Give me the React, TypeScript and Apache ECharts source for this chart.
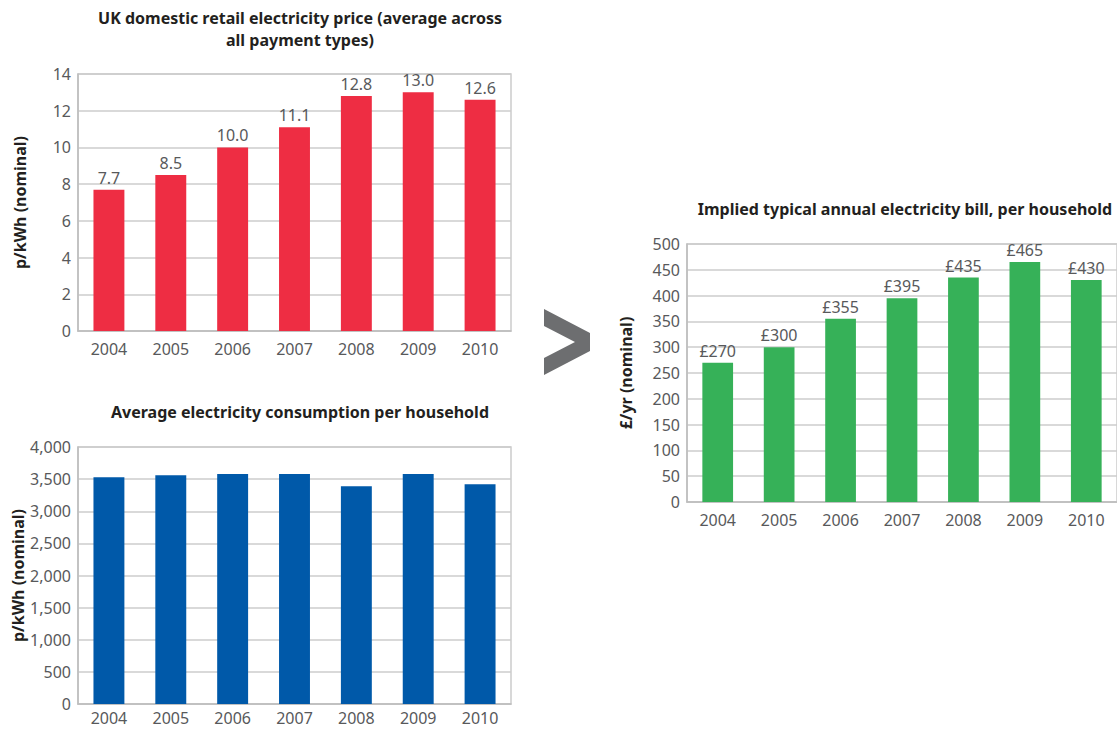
import React, { useEffect, useRef } from "react";
import * as echarts from "echarts";

const years = ["2004", "2005", "2006", "2007", "2008", "2009", "2010"];
const priceValues = [7.7, 8.5, 10.0, 11.1, 12.8, 13.0, 12.6];
const consumptionValues = [3530, 3560, 3580, 3580, 3390, 3580, 3420];
const billValues = [270, 300, 355, 395, 435, 465, 430];

const titles = [
  "UK domestic retail electricity price (average across\nall payment types)",
  "Average electricity consumption per household",
  "Implied typical annual electricity bill, per household",
];
const axisNames = ["p/kWh (nominal)", "p/kWh (nominal)", "£/yr (nominal)"];

const FONT = "'Noto Sans', 'Open Sans', sans-serif";
const TICK = "#58595b";
const DARK = "#231f20";
const GRIDC = "#cccccc";

export default function App() {
  const ref = useRef<HTMLDivElement>(null);
  useEffect(() => {
    document.body.style.margin = "0";
    if (!ref.current) return;
    const chart = echarts.init(ref.current, null, { renderer: "svg" });
    const grids = [
      { left: 78, top: 74, width: 433, height: 257 },
      { left: 78, top: 447, width: 433, height: 257 },
      { left: 687, top: 244, width: 431, height: 258 },
    ];
    const xMargins = [10, 6, 10];
    const yCfg = [
      { min: 0, max: 14, interval: 2, fmt: (v: number) => String(v), gap: 50 },
      {
        min: 0,
        max: 4000,
        interval: 500,
        fmt: (v: number) => v.toLocaleString("en-GB"),
        gap: 50,
      },
      { min: 0, max: 500, interval: 50, fmt: (v: number) => String(v), gap: 53 },
    ];
    const colors = ["#ee2d43", "#0059a9", "#36b158"];
    const dataSets = [priceValues, consumptionValues, billValues];
    const labelFmt = [
      (p: any) => p.value.toFixed(1),
      null,
      (p: any) => "£" + p.value,
    ];
    const titleCfg = [
      { x: 295, top: 2, size: 16 },
      { x: 295, top: 396, size: 16 },
      { x: 900, top: 193, size: 16 },
    ];

    chart.setOption({
      animation: false,
      title: titles.map((t, i) => ({
        text: t,
        left: titleCfg[i].x,
        top: titleCfg[i].top,
        textAlign: "center",
        textStyle: {
          fontFamily: FONT,
          fontWeight: "bold",
          fontSize: titleCfg[i].size,
          lineHeight: 22,
          color: DARK,
        },
      })),
      grid: grids.map((g) => ({
        ...g,
        show: true,
        borderColor: GRIDC,
        borderWidth: 1.5,
        containLabel: false,
      })),
      xAxis: grids.map((_, i) => ({
        type: "category",
        gridIndex: i,
        data: years,
        axisTick: { show: false },
        axisLine: { lineStyle: { color: "#bdbdbd", width: 1.5 } },
        axisLabel: {
          color: TICK,
          fontFamily: FONT,
          fontSize: 16,
          lineHeight: 16,
          margin: xMargins[i],
        },
      })),
      yAxis: grids.map((_, i) => ({
        type: "value",
        gridIndex: i,
        min: yCfg[i].min,
        max: yCfg[i].max,
        interval: yCfg[i].interval,
        name: axisNames[i],
        nameLocation: "middle",
        nameGap: yCfg[i].gap,
        nameTextStyle: {
          fontFamily: FONT,
          fontWeight: "bold",
          fontSize: 16,
          color: DARK,
        },
        axisLine: { show: true, lineStyle: { color: "#bdbdbd", width: 1.5 } },
        axisTick: { show: false },
        splitLine: { lineStyle: { color: GRIDC, width: 1.5 } },
        axisLabel: {
          color: TICK,
          fontFamily: FONT,
          fontSize: 16,
          margin: 7,
          formatter: yCfg[i].fmt,
        },
      })),
      series: dataSets.map((d, i) => ({
        type: "bar",
        xAxisIndex: i,
        yAxisIndex: i,
        data: d,
        barWidth: "50%",
        itemStyle: { color: colors[i] },
        label: labelFmt[i]
          ? {
              show: true,
              position: "top",
              distance: 4,
              formatter: labelFmt[i],
              color: TICK,
              fontFamily: FONT,
              fontSize: 16,
            }
          : { show: false },
      })),
      graphic: [
        {
          type: "polygon",
          shape: {
            points: [
              [544, 309],
              [590, 333],
              [590, 351],
              [544, 375],
              [544, 358],
              [575, 342],
              [544, 326],
            ],
          },
          style: { fill: "#6d6e70" },
        },
      ],
    });
    return () => chart.dispose();
  }, []);
  return <div ref={ref} style={{ width: 1117, height: 731 }} />;
}
